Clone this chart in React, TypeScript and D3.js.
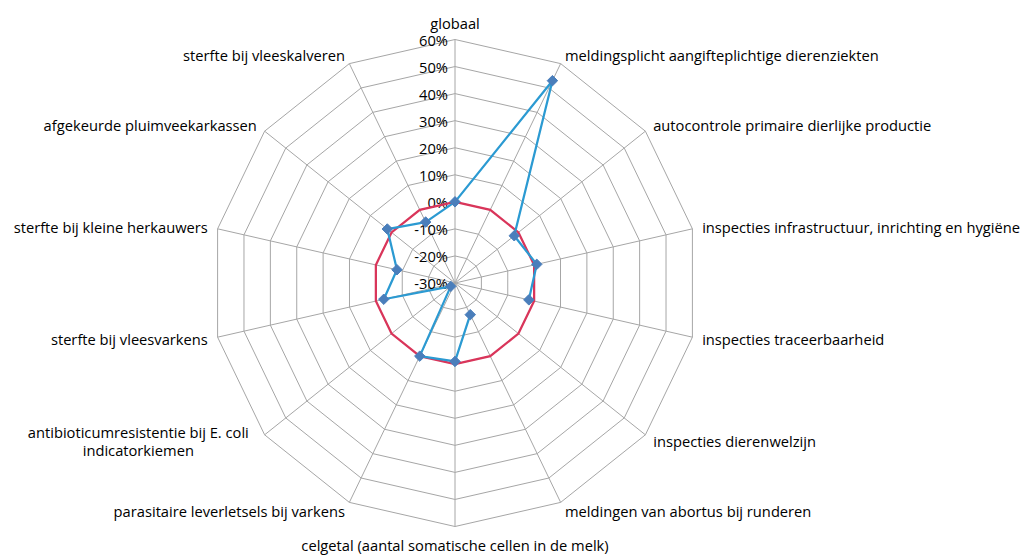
import * as d3 from 'd3';
import React, { useEffect, useRef } from 'react';

const categories = [
  'globaal',
  'meldingsplicht aangifteplichtige dierenziekten',
  'autocontrole primaire dierlijke productie',
  'inspecties infrastructuur, inrichting en hygiëne',
  'inspecties traceerbaarheid',
  'inspecties dierenwelzijn',
  'meldingen van abortus bij runderen',
  'celgetal (aantal somatische cellen in de melk)',
  'parasitaire leverletsels bij varkens',
  'antibioticumresistentie bij E. coli\nindicatorkiemen',
  'sterfte bij vleesvarkens',
  'sterfte bij kleine herkauwers',
  'afgekeurde pluimveekarkassen',
  'sterfte bij vleeskalveren',
];

// blue series, null = no value
const evolutie: (number | null)[] = [0, 53, -2, 1, -2, null, -17, -1, 0, -28, -3, -8, 2, -5];
// red reference line
const referentie = [0, 0, 0, 0, 0, 0, 0, 0, 0, 0, 0, 0, 0, 0];

const tickValues = [-30, -20, -10, 0, 10, 20, 30, 40, 50, 60];

const W = 1029;
const H = 555;

const App = () => {
  const ref = useRef<SVGSVGElement>(null);

  useEffect(() => {
    const svg = d3.select(ref.current);
    svg.selectAll('*').remove();

    const cx = 455;
    const cy = 283;
    const R = 243.5;
    const n = categories.length;
    const fs = 14.7;

    const r = d3.scaleLinear().domain([-30, 60]).range([0, R]);
    const angle = d3.scaleLinear().domain([0, n]).range([0, 2 * Math.PI]);

    const pt = (i: number, v: number): [number, number] => {
      const a = angle(i);
      return [cx + r(v) * Math.sin(a), cy - r(v) * Math.cos(a)];
    };

    const g = svg.append('g');
    const font = '"Open Sans", sans-serif';

    // rings
    tickValues.slice(1).forEach(t => {
      const pts = d3.range(n).map(i => pt(i, t));
      g.append('polygon')
        .attr('points', pts.map(p => p.join(',')).join(' '))
        .attr('fill', 'none')
        .attr('stroke', '#a6a6a6')
        .attr('stroke-width', 1);
    });

    // spokes
    d3.range(n).forEach(i => {
      const [x, y] = pt(i, 60);
      g.append('line')
        .attr('x1', cx).attr('y1', cy)
        .attr('x2', x).attr('y2', y)
        .attr('stroke', '#a6a6a6')
        .attr('stroke-width', 1);
    });

    // radial ticks
    tickValues.forEach(t => {
      g.append('text')
        .attr('x', cx - 7)
        .attr('y', cy - r(t))
        .attr('text-anchor', 'end')
        .attr('dominant-baseline', 'central')
        .attr('font-family', font)
        .attr('font-size', fs)
        .attr('fill', '#000')
        .text(t + '%');
    });

    // category labels
    categories.forEach((c, i) => {
      const a = angle(i);
      const s = Math.sin(a);
      const co = Math.cos(a);
      const lr = R + 10;
      const x = cx + lr * s;
      let y = cy - lr * co;
      let anchor = 'middle';
      if (s > 0.01) anchor = 'start';
      else if (s < -0.01) anchor = 'end';
      if (anchor === 'middle') y += co > 0 ? -7 : 8;
      const lines = c.split('\n');
      if (lines.length > 1) {
        // centred block of lines, right edge near the anchor
        const tmp = g.append('text').attr('font-family', font).attr('font-size', fs).text(lines[0]);
        const wMax = (tmp.node() as SVGTextElement).getComputedTextLength();
        tmp.remove();
        const mx = x - 8 - wMax / 2;
        lines.forEach((l, k) => {
          g.append('text')
            .attr('font-family', font)
            .attr('font-size', fs)
            .attr('fill', '#000')
            .attr('text-anchor', 'middle')
            .attr('x', mx)
            .attr('y', y + (k - (lines.length - 1) / 2) * 18)
            .attr('dominant-baseline', 'central')
            .text(l);
        });
      } else {
        g.append('text')
          .attr('font-family', font)
          .attr('font-size', fs)
          .attr('fill', '#000')
          .attr('text-anchor', anchor)
          .attr('x', x)
          .attr('y', y)
          .attr('dominant-baseline', 'central')
          .text(c);
      }
    });

    // reference line
    const refPts = referentie.map((v, i) => pt(i, v));
    g.append('polygon')
      .attr('points', refPts.map(p => p.join(',')).join(' '))
      .attr('fill', 'none')
      .attr('stroke', '#d9355a')
      .attr('stroke-width', 2.25);

    // blue series with gap
    const closed = evolutie.map((v, i) => ({ v, i })).concat([{ v: evolutie[0], i: n }]);
    const line = d3.line<{ v: number | null; i: number }>()
      .defined(d => d.v !== null)
      .x(d => pt(d.i, d.v as number)[0])
      .y(d => pt(d.i, d.v as number)[1]);
    g.append('path')
      .attr('d', line(closed))
      .attr('fill', 'none')
      .attr('stroke', '#2b9ad2')
      .attr('stroke-width', 2.25)
      .attr('stroke-linejoin', 'round');

    const diamond = d3.symbol().type(d3.symbolDiamond2).size(70);
    evolutie.forEach((v, i) => {
      if (v === null) return;
      const [x, y] = pt(i, v);
      g.append('path')
        .attr('d', diamond())
        .attr('transform', `translate(${x},${y})`)
        .attr('fill', '#4a7ebb')
        .attr('stroke', '#4a7ebb');
    });
  }, []);

  return (
    <svg
      ref={ref}
      width={W}
      height={H}
      style={{ position: 'absolute', left: 0, top: 0, display: 'block' }}
    />
  );
};

export default App;
